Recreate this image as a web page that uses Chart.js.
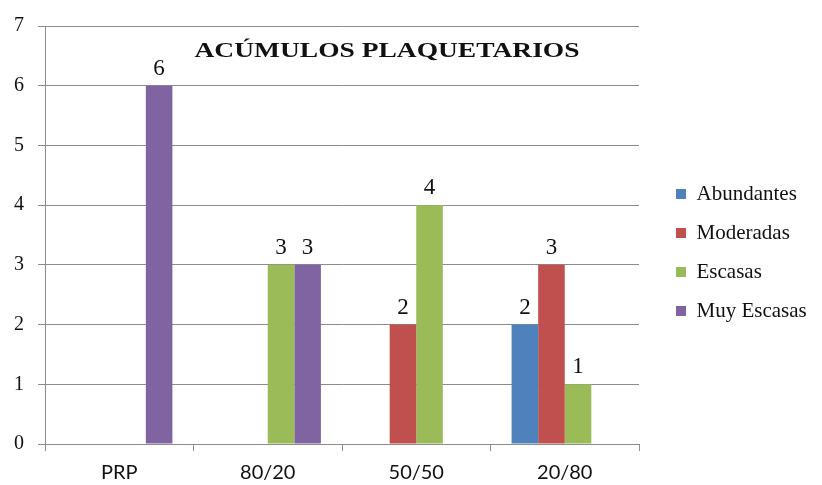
<!DOCTYPE html>
<html><head><meta charset="utf-8">
<script src="https://cdn.jsdelivr.net/npm/chart.js@4/dist/chart.umd.min.js"></script>
<style>html,body{margin:0;padding:0;background:#fff}#wrap{width:822px;height:485px}</style>
</head><body><div id="wrap"><canvas id="c"></canvas></div>
<script>
const categories = ['PRP', '80/20', '50/50', '20/80'];
const seriesNames = ['Abundantes', 'Moderadas', 'Escasas', 'Muy Escasas'];
const abundantes = [0, 0, 0, 2];
const moderadas = [0, 0, 2, 3];
const escasas = [0, 3, 4, 1];
const muyEscasas = [6, 3, 0, 0];
const yTickLabels = ['0', '1', '2', '3', '4', '5', '6', '7'];
const chartTitle = 'ACÚMULOS PLAQUETARIOS';

const seriesValues = [abundantes, moderadas, escasas, muyEscasas];
const seriesColors = ['#4F81BD', '#C0504D', '#9BBB59', '#8064A2'];
const gridColor = '#8c8c8c';

const valueLabels = {
  id: 'valueLabels',
  afterDatasetsDraw(chart) {
    const ctx = chart.ctx;
    ctx.save();
    ctx.font = '23px "Liberation Serif"';
    ctx.fillStyle = '#111';
    ctx.textAlign = 'center';
    ctx.textBaseline = 'alphabetic';
    chart.data.datasets.forEach((ds, i) => {
      chart.getDatasetMeta(i).data.forEach((bar, j) => {
        const v = ds.data[j];
        if (!v) return;
        ctx.fillText(String(v), bar.x, bar.y - 11);
      });
    });
    ctx.restore();
  }
};

const titleInside = {
  id: 'titleInside',
  afterDraw(chart) {
    const ctx = chart.ctx;
    ctx.save();
    ctx.font = 'bold 22px "Liberation Serif"';
    ctx.fillStyle = '#111';
    ctx.textBaseline = 'alphabetic';
    ctx.textAlign = 'center';
    const w = ctx.measureText(chartTitle).width;
    const sx = 385 / w;
    ctx.translate(387, 57);
    ctx.scale(sx, 1);
    ctx.fillText(chartTitle, 0, 0);
    ctx.restore();
  }
};

const legendPlace = {
  id: 'legendPlace',
  afterInit(chart) {
    const leg = chart.legend;
    if (!leg) return;
    const f = leg.fit.bind(leg);
    leg.fit = function () { f(); this.width = 822 - 639; };
  },
  afterLayout(chart) {
    const leg = chart.legend;
    if (!leg) return;
    leg.left = chart.chartArea.right + 19;
    leg.top = leg.top - 7;
    leg.bottom = leg.bottom - 7;
  }
};

new Chart(document.getElementById('c'), {
  type: 'bar',
  data: {
    labels: categories,
    datasets: seriesNames.map((name, i) => ({
      label: name,
      data: seriesValues[i],
      backgroundColor: seriesColors[i],
      borderColor: seriesColors[i],
      borderWidth: 0,
      categoryPercentage: 0.716,
      barPercentage: 1.0
    }))
  },
  options: {
    responsive: true,
    maintainAspectRatio: false,
    animation: false,
    layout: { padding: { left: 0, top: 24, right: 0, bottom: -10 } },
    plugins: {
      tooltip: { enabled: false },
      title: { display: false },
      legend: {
        position: 'right',
        labels: {
          boxWidth: 10,
          boxHeight: 10,
          padding: 18,
          color: '#111',
          font: { family: '"Liberation Serif"', size: 21 }
        }
      }
    },
    scales: {
      x: {
        grid: { drawOnChartArea: false, drawTicks: true, tickLength: 7, color: gridColor },
        border: { display: true, color: gridColor },
        ticks: { color: '#111', padding: 10, font: { family: 'Lato', size: 20 } }
      },
      y: {
        min: 0,
        max: 7,
        grid: { color: gridColor, tickLength: 7, drawTicks: true },
        border: { display: true, color: gridColor },
        ticks: {
          stepSize: 1,
          color: '#111',
          padding: 14,
          font: { family: '"Liberation Serif"', size: 20 },
          callback: (v) => yTickLabels[v] !== undefined ? yTickLabels[v] : v
        }
      }
    }
  },
  plugins: [valueLabels, titleInside, legendPlace]
});
</script>
</body></html>
